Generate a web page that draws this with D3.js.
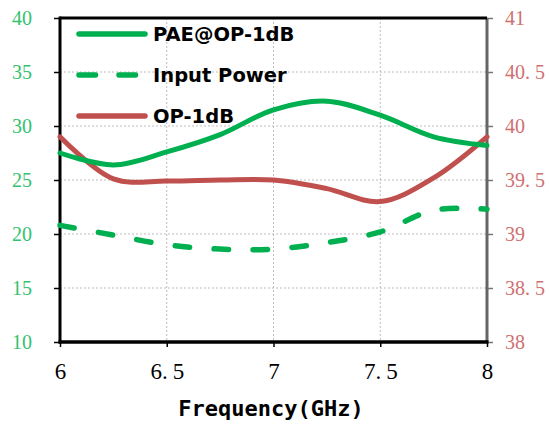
<!DOCTYPE html>
<html><head><meta charset="utf-8">
<script src="https://cdn.jsdelivr.net/npm/d3@7"></script>
<style>body{margin:0;background:#fff}svg{display:block}</style>
</head><body>
<script>
const freq = [6, 6.25, 6.5, 6.75, 7, 7.25, 7.5, 7.75, 8];
const pae = [27.5, 26.4, 27.6, 29.2, 31.5, 32.3, 31.0, 29.0, 28.2];
const inputPower = [20.8, 19.9, 19.0, 18.6, 18.6, 19.2, 20.2, 22.2, 22.3];
const op1dB = [39.9, 39.51, 39.49, 39.5, 39.5, 39.42, 39.3, 39.52, 39.9];
const xTicks = [6, 6.5, 7, 7.5, 8];
const xTickLabels = ["6", "6.5", "7", "7.5", "8"];
const leftTicks = [10, 15, 20, 25, 30, 35, 40];
const rightTicks = [38, 38.5, 39, 39.5, 40, 40.5, 41];
const rightTickLabels = ["38", "38.5", "39", "39.5", "40", "40.5", "41"];
const legendLabels = ["PAE@OP-1dB", "Input Power", "OP-1dB"];

const W = 549, H = 425;
const L = 60, R = 487, T = 18, B = 342;
const green = "#00B050", red = "#C0504D";
const greenText = "#33C26E", redText = "#D07070";
const fontTick = "'Liberation Serif','Times New Roman','DejaVu Serif',serif";

const svg = d3.select("body").append("svg").attr("width", W).attr("height", H);
const x = d3.scaleLinear().domain([6, 8]).range([L, R]);
const yL = d3.scaleLinear().domain([10, 40]).range([B, T]);
const yR = d3.scaleLinear().domain([38, 41]).range([B, T]);

function spacedDecimal(sel) {
  sel.each(function () {
    const t = d3.select(this);
    const s = t.text();
    const k = s.indexOf(".");
    if (k < 0) return;
    t.text(null);
    t.append("tspan").text(s.slice(0, k + 1));
    t.append("tspan").attr("dx", 5).text(s.slice(k + 1));
  });
}

// grid
const grid = svg.append("g").attr("stroke", "#bdbdbd").attr("stroke-width", 1).attr("stroke-dasharray", "2,2");
xTicks.slice(1, -1).forEach(v => grid.append("line").attr("x1", x(v)).attr("x2", x(v)).attr("y1", T).attr("y2", B));
leftTicks.slice(1, -1).forEach(v => grid.append("line").attr("x1", L).attr("x2", R).attr("y1", yL(v)).attr("y2", yL(v)));

// axes
const gx = svg.append("g").attr("transform", `translate(0,${B})`)
  .call(d3.axisBottom(x).tickValues(xTicks).tickFormat((d, i) => xTickLabels[i]).tickSize(5).tickPadding(16));
gx.select(".domain").remove();
gx.selectAll("line").attr("stroke", "#000").attr("stroke-width", 1.5);
gx.selectAll("text").style("font-family", fontTick).style("font-size", "23px").attr("fill", "#000").call(spacedDecimal);

const gl = svg.append("g").attr("transform", `translate(${L},0)`)
  .call(d3.axisLeft(yL).tickValues(leftTicks).tickSize(6).tickPadding(22));
gl.select(".domain").remove();
gl.selectAll("line").attr("stroke", "#000").attr("stroke-width", 1.5);
gl.selectAll("text").style("font-family", fontTick).style("font-size", "20px").attr("fill", greenText).attr("dy", "0.33em");

const gr = svg.append("g").attr("transform", `translate(${R},0)`)
  .call(d3.axisRight(yR).tickValues(rightTicks).tickFormat((d, i) => rightTickLabels[i]).tickSize(6).tickPadding(12));
gr.select(".domain").remove();
gr.selectAll("line").attr("stroke", "#777").attr("stroke-width", 1.5);
gr.selectAll("text").style("font-family", fontTick).style("font-size", "20px").attr("fill", redText).attr("dy", "0.33em").call(spacedDecimal);

// frame
svg.append("line").attr("x1", R).attr("x2", R).attr("y1", T).attr("y2", B).attr("stroke", "#666").attr("stroke-width", 3);
svg.append("line").attr("x1", L).attr("x2", R).attr("y1", T).attr("y2", T).attr("stroke", "#000").attr("stroke-width", 3);
svg.append("line").attr("x1", L).attr("x2", L).attr("y1", T - 1.5).attr("y2", B + 1.5).attr("stroke", "#000").attr("stroke-width", 3);
svg.append("line").attr("x1", L - 1.5).attr("x2", R + 1.5).attr("y1", B).attr("y2", B).attr("stroke", "#000").attr("stroke-width", 3.5);

// series
const lineL = d3.line().x((d, i) => x(freq[i])).y(d => yL(d)).curve(d3.curveCatmullRom.alpha(0.5));
const lineR = d3.line().x((d, i) => x(freq[i])).y(d => yR(d)).curve(d3.curveCatmullRom.alpha(0.5));
svg.append("path").attr("d", lineL(inputPower)).attr("fill", "none").attr("stroke", green).attr("stroke-width", 5.5)
  .attr("stroke-linecap", "round").attr("stroke-dasharray", "14.5,24.5");
svg.append("path").attr("d", lineR(op1dB)).attr("fill", "none").attr("stroke", red).attr("stroke-width", 5).attr("stroke-linecap", "round");
svg.append("path").attr("d", lineL(pae)).attr("fill", "none").attr("stroke", green).attr("stroke-width", 5).attr("stroke-linecap", "round");

// legend
const legY = [34, 75, 116];
const legColors = [green, green, red];
const legDash = [null, "16.5,23.5", null];
legendLabels.forEach((lab, i) => {
  svg.append("line").attr("x1", 79).attr("x2", 145).attr("y1", legY[i]).attr("y2", legY[i])
    .attr("stroke", legColors[i]).attr("stroke-width", 5.5).attr("stroke-linecap", "round")
    .attr("stroke-dasharray", legDash[i]);
  svg.append("text").attr("x", 153).attr("y", legY[i]).attr("dy", "0.36em")
    .style("font-family", "'DejaVu Sans',sans-serif").style("font-weight", "bold").style("font-size", "19.5px")
    .attr("fill", "#000").text(lab);
});

// x axis title
svg.append("text").attr("x", 271).attr("y", 416).attr("text-anchor", "middle")
  .style("font-family", "'DejaVu Sans Mono','DejaVu Sans',sans-serif").style("font-weight", "bold").style("font-size", "22px")
  .attr("fill", "#000").text("Frequency(GHz)");
</script>
</body></html>
